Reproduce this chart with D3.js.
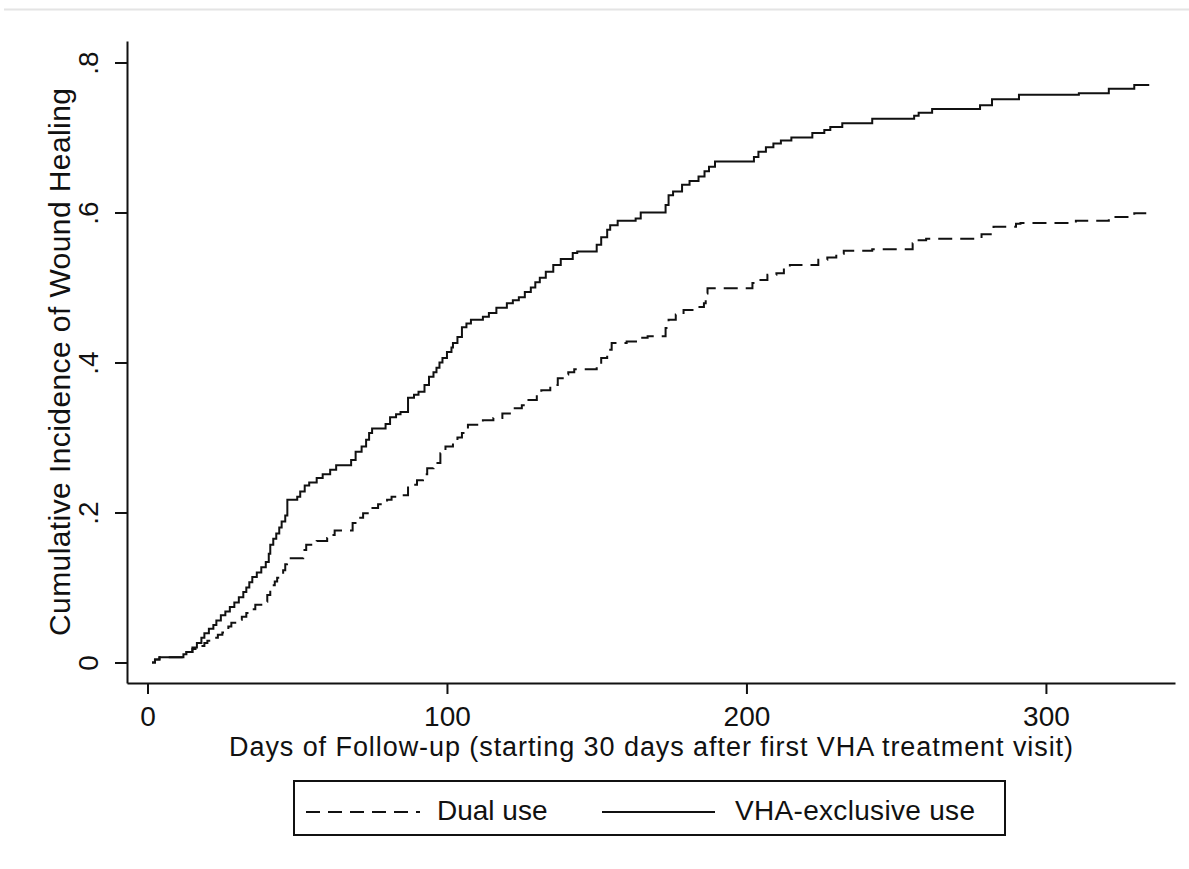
<!DOCTYPE html>
<html>
<head>
<meta charset="utf-8">
<script src="https://cdn.jsdelivr.net/npm/d3@7"></script>
<style>
  body { margin: 0; background: #fff; }
  text { font-family: "Liberation Sans", Arial, sans-serif; fill: #111; }
</style>
</head>
<body>
<svg id="chart"></svg>
<script>
// step points: [day, cumulative incidence after the step]
const vhaExclusive = [
  [1.5, 0], [2.5, 0.004], [4, 0.007], [12, 0.011], [13, 0.014], [15, 0.02], [16.5, 0.026],
  [18, 0.033], [19, 0.039], [20.5, 0.045], [22, 0.05], [23, 0.056], [24.5, 0.063], [26, 0.068],
  [27.5, 0.074], [29, 0.08], [30.5, 0.087], [32, 0.094], [33, 0.1], [34, 0.107], [35, 0.114],
  [36.5, 0.12], [38, 0.127], [39.5, 0.134], [40.5, 0.145], [41, 0.157], [42, 0.165], [43, 0.172],
  [44, 0.18], [44.8, 0.188], [46, 0.196], [46.7, 0.217], [50, 0.221], [51, 0.228], [52.5, 0.236],
  [54, 0.24], [56.5, 0.246], [58.5, 0.251], [61, 0.257], [63, 0.263], [68, 0.27], [69.5, 0.281],
  [71.5, 0.288], [73, 0.297], [74, 0.306], [75, 0.312], [79.5, 0.318], [81, 0.327], [83, 0.331],
  [84.5, 0.334], [87, 0.353], [89, 0.357], [90.5, 0.361], [92.5, 0.37], [94, 0.381], [95.5, 0.387],
  [96.5, 0.393], [97.5, 0.4], [98.5, 0.406], [100, 0.414], [101.5, 0.42], [102, 0.426],
  [103.5, 0.434], [105, 0.447], [106.5, 0.452], [108, 0.457], [112, 0.461], [114, 0.466],
  [116.5, 0.473], [120, 0.479], [122, 0.483], [124, 0.487], [126, 0.494], [128, 0.5],
  [129.5, 0.507], [131, 0.513], [133, 0.521], [135.5, 0.53], [138, 0.538], [142, 0.546],
  [143.5, 0.548], [150, 0.557], [151.5, 0.567], [153.5, 0.577], [154.5, 0.583], [157, 0.589],
  [163, 0.592], [164.7, 0.6], [173, 0.61], [174, 0.623], [175.5, 0.628], [178.5, 0.637],
  [181, 0.642], [184, 0.648], [186, 0.655], [187.5, 0.661], [189.5, 0.668], [202.5, 0.674],
  [204, 0.681], [206.5, 0.687], [209, 0.692], [211.5, 0.696], [215, 0.7], [222, 0.706],
  [226, 0.71], [228, 0.714], [232, 0.719], [242, 0.725], [256, 0.729], [257.5, 0.733],
  [262, 0.738], [278, 0.743], [282, 0.751], [291, 0.757], [311, 0.759], [321, 0.765],
  [329.5, 0.77], [334.5, 0.77]
];

const dualUse = [
  [1.5, 0], [2.5, 0.004], [4, 0.007], [12, 0.011], [13, 0.014], [15, 0.018], [17, 0.022],
  [19, 0.026], [20, 0.029], [22, 0.033], [23.5, 0.037], [25, 0.04], [26, 0.043], [27, 0.048],
  [28, 0.053], [30, 0.057], [31.5, 0.061], [33, 0.066], [34.5, 0.071], [36, 0.077], [38, 0.081],
  [40, 0.09], [41, 0.097], [41.6, 0.103], [42.5, 0.108], [43.3, 0.113], [44.3, 0.118],
  [45.3, 0.123], [46, 0.131], [46.6, 0.139], [52, 0.15], [53, 0.157], [56.5, 0.162], [60, 0.166],
  [61.5, 0.17], [62.5, 0.176], [68.5, 0.186], [70, 0.193], [72, 0.199], [74.4, 0.206], [77, 0.211],
  [80, 0.217], [81.5, 0.221], [84, 0.223], [87, 0.237], [90, 0.243], [92, 0.251], [93.4, 0.259],
  [95.5, 0.266], [97.8, 0.279], [99.5, 0.288], [102, 0.294], [103.5, 0.3], [105, 0.306],
  [107, 0.317], [112, 0.323], [115.5, 0.326], [118.5, 0.332], [121, 0.339], [125, 0.343],
  [126.5, 0.35], [130, 0.358], [131.5, 0.363], [134.5, 0.37], [137, 0.379], [139, 0.384],
  [140.5, 0.387], [142.5, 0.391], [150, 0.398], [151.5, 0.406], [153.5, 0.417], [155, 0.426],
  [160, 0.428], [163.5, 0.433], [167, 0.435], [173, 0.446], [174, 0.457], [176.4, 0.464],
  [179, 0.47], [182.5, 0.474], [185.8, 0.479], [186.4, 0.492], [187, 0.499], [202, 0.506],
  [204, 0.51], [207, 0.517], [210, 0.519], [212.5, 0.526], [214.5, 0.53], [224, 0.537],
  [227, 0.54], [230, 0.545], [232.5, 0.549], [242, 0.551], [255.5, 0.559], [257.5, 0.563],
  [260, 0.565], [278.5, 0.571], [282.5, 0.581], [290, 0.585], [291.5, 0.586], [310, 0.589],
  [321, 0.594], [329.5, 0.599], [333.5, 0.599]
];

const xTicks = [0, 100, 200, 300];
const yTicks = [0, 0.2, 0.4, 0.6, 0.8];
const yTickLabels = ["0", ".2", ".4", ".6", ".8"];
const seriesNames = ["Dual use", "VHA-exclusive use"];

const width = 1189, height = 869;
const margin = {top: 41, right: 14, bottom: 186, left: 127};

let svg = d3.select("#chart")
  .attr("width", width)
  .attr("height", height);

// faint frame line at the very top
svg.append("line")
  .attr("x1", 4).attr("x2", width)
  .attr("y1", 9.5).attr("y2", 9.5)
  .style("stroke", "#e4e4e4")
  .style("stroke-width", 2);

let x = d3.scaleLinear().domain([-6.84, 343.1]).range([margin.left, width - margin.right]);
let y = d3.scaleLinear().domain([-0.0273, 0.8287]).range([height - margin.bottom, margin.top]);

let x_axis = svg.append("g")
  .attr("transform", `translate(0,${height - margin.bottom})`)
  .call(d3.axisBottom(x).tickValues(xTicks).tickSize(11).tickSizeOuter(0));

let y_axis = svg.append("g")
  .attr("transform", `translate(${margin.left},0)`)
  .call(d3.axisLeft(y).tickValues(yTicks).tickSize(12).tickSizeOuter(0)
    .tickFormat((d, i) => yTickLabels[i]));

[x_axis, y_axis].forEach(ax => {
  ax.select(".domain").style("stroke", "#111").style("stroke-width", 2);
  ax.selectAll(".tick line").style("stroke", "#111").style("stroke-width", 2);
  ax.selectAll(".tick text")
    .style("font-family", '"Liberation Sans", Arial, sans-serif')
    .style("font-size", "28px")
    .style("fill", "#111");
});

x_axis.selectAll(".tick text")
  .attr("y", 43)
  .attr("dy", 0);

// stata style: y labels turned sideways
y_axis.selectAll(".tick text")
  .attr("x", 0)
  .attr("dy", 0)
  .attr("transform", "translate(-29,0) rotate(-90)")
  .style("text-anchor", "middle");

// axis titles
svg.append("text")
  .attr("transform", `translate(70,${(margin.top + height - margin.bottom) / 2}) rotate(-90)`)
  .style("text-anchor", "middle")
  .style("font-size", "30px")
  .attr("textLength", 548)
  .text("Cumulative Incidence of Wound Healing");

svg.append("text")
  .attr("transform", `translate(${(margin.left + width - margin.right) / 2},756)`)
  .style("text-anchor", "middle")
  .style("font-size", "27px")
  .attr("textLength", 844)
  .text("Days of Follow-up (starting 30 days after first VHA treatment visit)");

// curves
let line = d3.line()
  .x(d => x(d[0]))
  .y(d => y(d[1]))
  .curve(d3.curveStepAfter);

svg.append("path")
  .datum(dualUse)
  .attr("d", line)
  .style("fill", "none")
  .style("stroke", "#111")
  .style("stroke-width", 2)
  .style("stroke-dasharray", "14,8");

svg.append("path")
  .datum(vhaExclusive)
  .attr("d", line)
  .style("fill", "none")
  .style("stroke", "#111")
  .style("stroke-width", 2);

// legend
let legend = svg.append("g");

legend.append("rect")
  .attr("x", 294).attr("y", 781)
  .attr("width", 711).attr("height", 54)
  .style("fill", "none")
  .style("stroke", "#111")
  .style("stroke-width", 2);

legend.append("line")
  .attr("x1", 306).attr("x2", 420)
  .attr("y1", 812).attr("y2", 812)
  .style("stroke", "#111")
  .style("stroke-width", 2)
  .style("stroke-dasharray", "14,8");

legend.append("text")
  .attr("x", 437).attr("y", 820)
  .style("font-size", "28px")
  .text(seriesNames[0]);

legend.append("line")
  .attr("x1", 602).attr("x2", 715)
  .attr("y1", 812).attr("y2", 812)
  .style("stroke", "#111")
  .style("stroke-width", 2);

legend.append("text")
  .attr("x", 735).attr("y", 820)
  .style("font-size", "28px")
  .attr("textLength", 240)
  .text(seriesNames[1]);
</script>
</body>
</html>
